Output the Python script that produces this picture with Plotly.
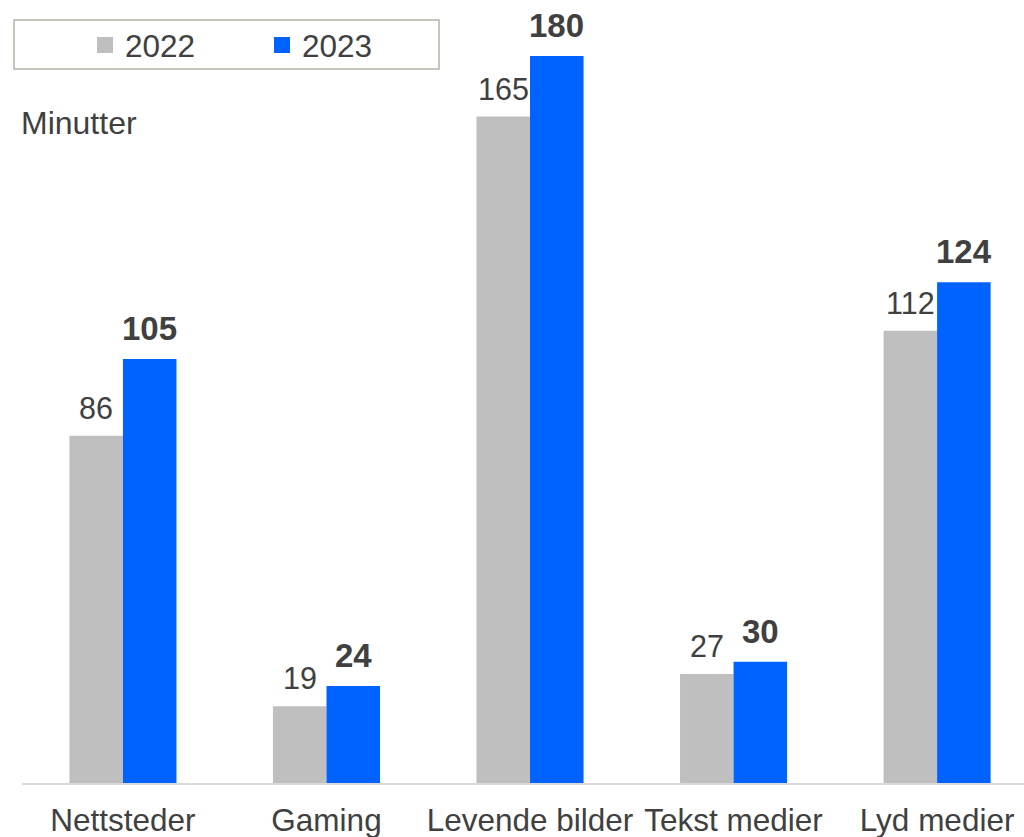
import plotly.graph_objects as go

categories = ["Nettsteder", "Gaming", "Levende bilder", "Tekst medier", "Lyd medier"]
values_2022 = [86, 19, 165, 27, 112]
values_2023 = [105, 24, 180, 30, 124]
series_names = ["2022", "2023"]
y_title = "Minutter"

GREY = "#BFBFBF"
BLUE = "#0062FF"
TEXT = "#404040"
FONT = "Liberation Sans, Arial, sans-serif"

W, H = 1024, 837
ML, MR, MT, MB = 22, 0, 0, 54
pw, ph = W - ML - MR, H - MT - MB

fig = go.Figure()
fig.add_trace(go.Bar(x=categories, y=values_2022, name=series_names[0],
                     marker=dict(color=GREY, line=dict(width=0)), showlegend=False))
fig.add_trace(go.Bar(x=categories, y=values_2023, name=series_names[1],
                     marker=dict(color=BLUE, line=dict(width=0)), showlegend=False))

# legend entries (square symbols)
for nm, col in zip(series_names, [GREY, BLUE]):
    fig.add_trace(go.Scatter(x=[None], y=[None], mode="markers", name=nm,
                             marker=dict(symbol="square", size=16, color=col)))

bar_w = 0.263
for i, (a, b) in enumerate(zip(values_2022, values_2023)):
    fig.add_annotation(x=i - bar_w / 2, y=a, xref="x", yref="y", text=str(a),
                       showarrow=False, yanchor="bottom", yshift=9,
                       font=dict(family=FONT, size=30.5, color=TEXT))
    fig.add_annotation(x=i + bar_w / 2, y=b, xref="x", yref="y", text=f"<b>{b}</b>",
                       showarrow=False, yanchor="bottom", yshift=10,
                       font=dict(family=FONT, size=33, color=TEXT))

fig.add_annotation(x=(19 - ML) / pw, y=1 - 123 / ph, xref="paper", yref="paper",
                   text=y_title, showarrow=False, xanchor="left", yanchor="middle",
                   font=dict(family=FONT, size=32, color=TEXT))

# legend frame
fig.add_shape(type="rect", xref="paper", yref="paper",
              x0=(14 - ML) / pw, x1=(439 - ML) / pw,
              y0=1 - 69 / ph, y1=1 - 20 / ph,
              line=dict(color="#B4B5A6", width=1.5), fillcolor="rgba(0,0,0,0)")

fig.update_layout(
    width=W, height=H,
    margin=dict(l=ML, r=MR, t=MT, b=MB, autoexpand=False),
    paper_bgcolor="white", plot_bgcolor="white",
    barmode="group", bargap=1 - 2 * bar_w, bargroupgap=0,
    font=dict(family=FONT, size=31, color=TEXT),
    showlegend=True,
    legend=dict(orientation="h", x=(85 - ML) / pw, xanchor="left",
                y=1 - 45 / ph, yanchor="middle",
                font=dict(family=FONT, size=31.5, color=TEXT),
                entrywidth=132, entrywidthmode="pixels",
                bgcolor="rgba(0,0,0,0)", borderwidth=0, itemwidth=30),
    xaxis=dict(range=[-0.496, 4.427], showline=True, linecolor="#D9D9D9", linewidth=1.5,
               showgrid=False, ticks="", zeroline=False, ticklabelstandoff=8,
               tickfont=dict(family=FONT, size=31.5, color=TEXT)),
    yaxis=dict(range=[0, ph / 4.039], visible=False, showgrid=False, zeroline=False),
)

fig.write_html("out.html", config={"displayModeBar": False},
               post_script="document.body.style.margin='0';")
